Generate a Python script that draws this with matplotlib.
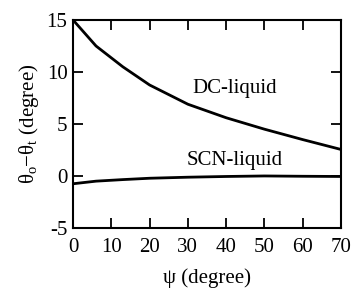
import matplotlib
matplotlib.use("Agg")
import matplotlib.pyplot as plt

psi = [0, 6, 13, 20, 30, 40, 50, 60, 70]
dc_liquid = [15.0, 12.5, 10.5, 8.75, 6.9, 5.6, 4.5, 3.5, 2.55]
psi_scn = [0, 6, 13, 20, 30, 40, 50, 60, 70]
scn_liquid = [-0.75, -0.5, -0.35, -0.22, -0.12, -0.05, 0.0, -0.03, -0.05]
xticks = [0, 10, 20, 30, 40, 50, 60, 70]
yticks = [-5, 0, 5, 10, 15]

plt.rcParams['font.family'] = ['Liberation Serif', 'DejaVu Serif']
plt.rcParams['mathtext.fontset'] = 'custom'
plt.rcParams['mathtext.rm'] = 'Liberation Serif'
plt.rcParams['mathtext.it'] = 'Liberation Serif:italic'
plt.rcParams['axes.unicode_minus'] = False

fig = plt.figure(figsize=(3.6, 2.9), dpi=100)
ax = fig.add_axes([0.203, 0.214, 0.744, 0.717])
ax.plot(psi, dc_liquid, color='black', lw=2.0)
ax.plot(psi_scn, scn_liquid, color='black', lw=2.0)
ax.set_xlim(0, 70)
ax.set_ylim(-5, 15)
ax.set_xticks(xticks)
ax.set_yticks(yticks)
ax.tick_params(direction='in', top=True, right=True, length=7.5, width=1.3,
               labelsize=15)
ax.tick_params(axis='x', pad=7)
ax.tick_params(axis='y', pad=4)
for s in ax.spines.values():
    s.set_linewidth(1.5)
ax.text(42.3, 8.4, 'DC-liquid', fontsize=15, ha='center', va='center')
ax.text(42.3, 1.5, 'SCN-liquid', fontsize=15, ha='center', va='center')
ax.set_xlabel('ψ (degree)', fontsize=15, labelpad=8)
ax.set_ylabel(r'θ$_\mathrm{o}$−θ$_\mathrm{t}$ (degree)', fontsize=15, labelpad=4)
fig.savefig('out.png', dpi=100)
